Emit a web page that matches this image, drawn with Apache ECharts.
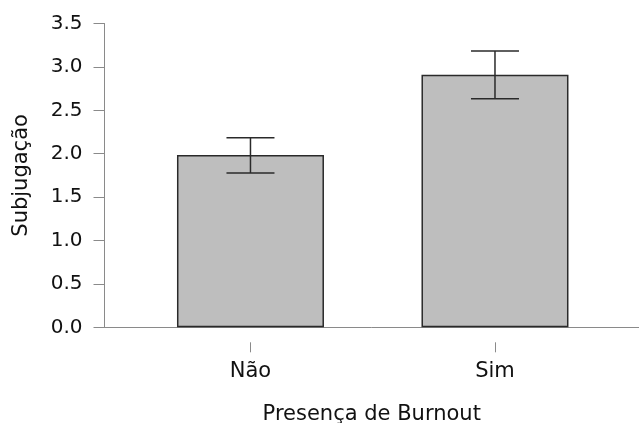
<!DOCTYPE html>
<html>
<head>
<meta charset="utf-8">
<script src="https://cdn.jsdelivr.net/npm/echarts@6/dist/echarts.min.js"></script>
<style>html,body{margin:0;padding:0;background:#fff}#c{width:639px;height:423px}</style>
</head>
<body>
<div id="c"></div>
<script>
const categories = ['Não', 'Sim'];
const means = [1.985, 2.91];
const errLow = [1.778, 2.634];
const errHigh = [2.184, 3.183];
const yTicks = [0, 0.5, 1.0, 1.5, 2.0, 2.5, 3.0, 3.5];
const xTitle = 'Presença de Burnout';
const yTitle = 'Subjugação';

const font = 'DejaVu Sans';
const chart = echarts.init(document.getElementById('c'), null, {renderer: 'canvas'});
const xPos = categories.map((c, i) => i);
chart.setOption({
  animation: false,
  backgroundColor: '#fff',
  grid: {left: 104.5, right: 0, top: 23.5, bottom: 95.7, containLabel: false, outerBoundsMode: 'none'},
  xAxis: [
    {
      type: 'value', min: -0.597, max: 1.589,
      axisLine: {show: true, onZero: false, lineStyle: {color: '#8a8a8a', width: 1}},
      axisTick: {show: false}, axisLabel: {show: false}, splitLine: {show: false}
    },
    {
      type: 'value', min: -0.597, max: 1.589, position: 'bottom', offset: 15,
      axisLine: {show: false, onZero: false},
      axisTick: {show: true, length: 10, customValues: xPos, lineStyle: {color: '#8a8a8a', width: 1}},
      axisLabel: {show: true, customValues: xPos, margin: 19, fontFamily: font, fontSize: 21, color: '#111',
        formatter: v => categories[Math.round(v)]},
      splitLine: {show: false},
      name: xTitle, nameLocation: 'middle', nameGap: 62,
      nameTextStyle: {fontFamily: font, fontSize: 21, color: '#111'}
    }
  ],
  yAxis: {
    type: 'value', min: yTicks[0], max: yTicks[yTicks.length - 1], interval: 0.5,
    axisLine: {show: true, onZero: false, lineStyle: {color: '#8a8a8a', width: 1}},
    axisTick: {show: true, length: 11, lineStyle: {color: '#8a8a8a', width: 1}},
    axisLabel: {margin: 22, fontFamily: font, fontSize: 20, color: '#111', formatter: v => v.toFixed(1)},
    splitLine: {show: false},
    name: yTitle, nameLocation: 'middle', nameGap: 72, nameRotate: 90,
    nameTextStyle: {fontFamily: font, fontSize: 21, color: '#111'}
  },
  series: [
    {
      type: 'bar', xAxisIndex: 0, barWidth: 147,
      data: xPos.map((x, i) => [x, means[i]]),
      itemStyle: {color: '#bebebe', borderColor: '#2a2a2a', borderWidth: 1.5}
    },
    {
      type: 'custom', xAxisIndex: 0, z: 5,
      data: xPos.map((x, i) => [x, errLow[i], errHigh[i]]),
      renderItem: function (params, api) {
        const x = api.value(0);
        const lo = api.coord([x, api.value(1)]);
        const hi = api.coord([x, api.value(2)]);
        const hw = 24;
        const st = {stroke: '#2a2a2a', lineWidth: 1.5};
        return {type: 'group', children: [
          {type: 'line', shape: {x1: hi[0], y1: hi[1], x2: lo[0], y2: lo[1]}, style: st},
          {type: 'line', shape: {x1: hi[0] - hw, y1: hi[1], x2: hi[0] + hw, y2: hi[1]}, style: st},
          {type: 'line', shape: {x1: lo[0] - hw, y1: lo[1], x2: lo[0] + hw, y2: lo[1]}, style: st}
        ]};
      }
    }
  ]
});
</script>
</body>
</html>
